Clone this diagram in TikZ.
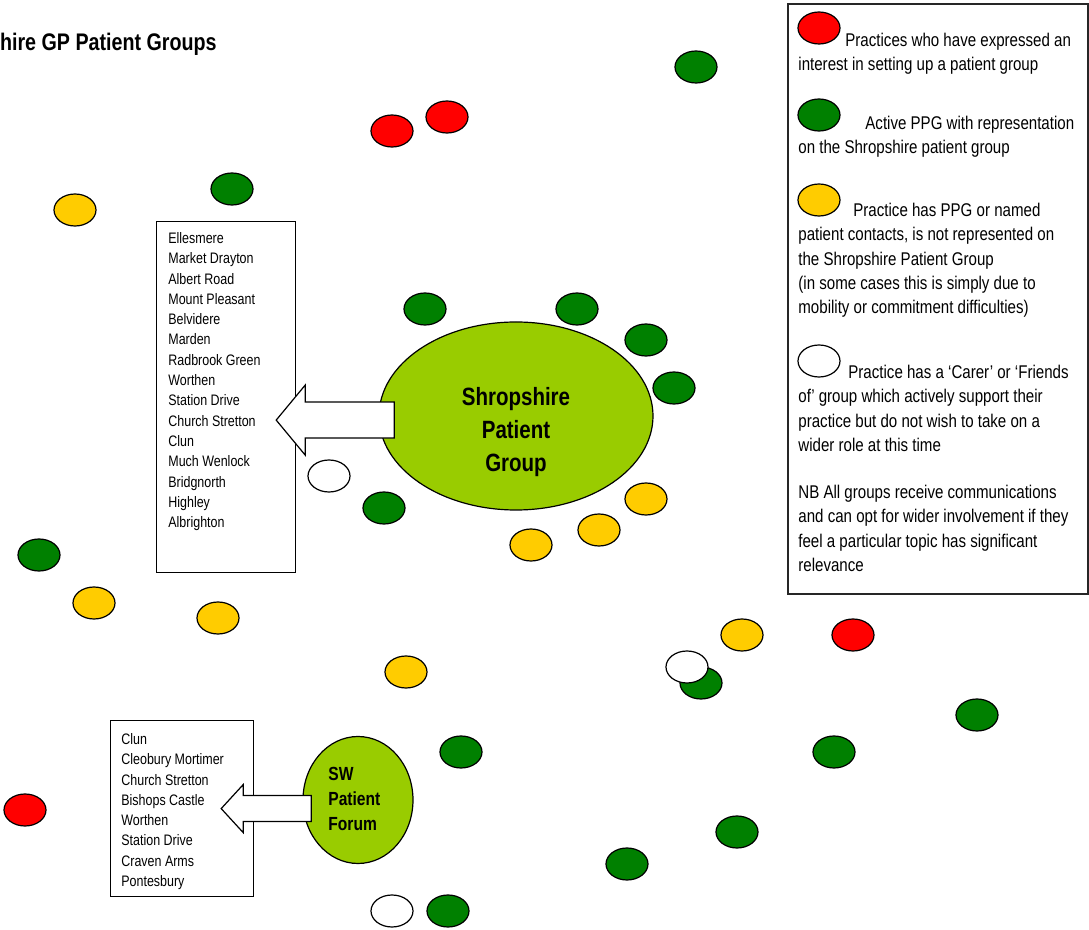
\documentclass[tikz,border=0pt]{standalone}
\usepackage{fontspec}
\setmainfont{Liberation Sans}[FakeStretch=0.82]
\usetikzlibrary{shapes.geometric, calc}

\definecolor{ppgred}{RGB}{255,0,0}
\definecolor{ppggreen}{RGB}{0,128,0}
\definecolor{ppgyellow}{RGB}{255,204,0}
\definecolor{ppglime}{RGB}{153,204,0}

\begin{document}
\begin{tikzpicture}[x=0.5pt, y=-0.5pt,
		dot/.style={draw, ellipse, line width=0.6pt, minimum width=21pt, minimum height=16pt, inner sep=0pt},
		reddot/.style={dot, fill=ppgred},
		greendot/.style={dot, fill=ppggreen},
		yellowdot/.style={dot, fill=ppgyellow},
		whitedot/.style={dot, fill=white},
		group/.style={draw, ellipse, fill=ppglime, line width=0.6pt, inner sep=0pt},
		namebox/.style={draw, rectangle, line width=0.6pt, anchor=north west, inner sep=0pt},
		names/.style={anchor=north west, align=left, inner sep=0pt, font=\fontsize{7.6}{10.15}\selectfont},
		legendtext/.style={anchor=north west, align=left, inner sep=0pt, font=\fontsize{9.2}{12.1}\selectfont},
		blockarrow/.style={draw, fill=white, line width=0.6pt, line join=miter}]
		\useasboundingbox (0, 0) rectangle (1089, 930);
		\clip (0, 0) rectangle (1089, 930);
		\node[anchor=base east, inner sep=0pt, font=\fontsize{12}{14}\selectfont\bfseries] (title) at (217, 51) {Shropshire GP Patient Groups};

		% legend
		\node[namebox, draw=black!85, line width=0.8pt, minimum width=150pt, minimum height=295pt] (legend) at (787, 3) {};
		\node[reddot] (legend_red) at (819, 28) {};
		\node[greendot] (legend_green) at (819, 115) {};
		\node[yellowdot] (legend_yellow) at (819, 200) {};
		\node[whitedot] (legend_white) at (819, 361) {};
		\node[legendtext] (legend_red_text) at (798, 33) {\hspace*{23.5pt}Practices who have expressed an\\interest in setting up a patient group};
		\node[legendtext] (legend_green_text) at (798, 116) {\hspace*{33.5pt}Active PPG with representation\\on the Shropshire patient group};
		\node[legendtext] (legend_yellow_text) at (798, 203) {\hspace*{27.5pt}Practice has PPG or named\\patient contacts, is not represented on\\the Shropshire Patient Group\\(in some cases this is simply due to\\mobility or commitment difficulties)};
		\node[legendtext] (legend_white_text) at (798, 365) {\hspace*{25pt}Practice has a ‘Carer’ or ‘Friends\\of’ group which actively support their\\practice but do not wish to take on a\\wider role at this time};
		\node[legendtext] (legend_nb) at (798, 485) {NB All groups receive communications\\and can opt for wider involvement if they\\feel a particular topic has significant\\relevance};

		% practices
		\node[reddot] (red_1) at (392, 131) {};
		\node[reddot] (red_2) at (447, 117) {};
		\node[reddot] (red_3) at (853, 635) {};
		\node[reddot] (red_4) at (25, 810) {};
		\node[greendot] (green_1) at (696, 67) {};
		\node[greendot] (green_2) at (232, 189) {};
		\node[greendot] (green_3) at (425, 309) {};
		\node[greendot] (green_4) at (577, 309) {};
		\node[greendot] (green_5) at (646, 340) {};
		\node[greendot] (green_6) at (674, 388) {};
		\node[greendot] (green_7) at (384, 508) {};
		\node[greendot] (green_8) at (39, 555) {};
		\node[greendot] (green_9) at (701, 683) {};
		\node[greendot] (green_10) at (977, 715) {};
		\node[greendot] (green_11) at (834, 752) {};
		\node[greendot] (green_12) at (461, 752) {};
		\node[greendot] (green_13) at (737, 832) {};
		\node[greendot] (green_14) at (627, 864) {};
		\node[greendot] (green_15) at (448, 911) {};
		\node[yellowdot] (yellow_1) at (75, 210) {};
		\node[yellowdot] (yellow_2) at (646, 499) {};
		\node[yellowdot] (yellow_3) at (599, 530) {};
		\node[yellowdot] (yellow_4) at (531, 545) {};
		\node[yellowdot] (yellow_5) at (94, 603) {};
		\node[yellowdot] (yellow_6) at (218, 618) {};
		\node[yellowdot] (yellow_7) at (406, 672) {};
		\node[yellowdot] (yellow_8) at (742, 635) {};
		\node[whitedot] (white_1) at (329, 476) {};
		\node[whitedot] (white_2) at (687, 667) {};
		\node[whitedot] (white_3) at (392, 911) {};

		% Shropshire patient group
		\node[group, minimum width=137pt, minimum height=94pt] (spg) at (516, 416) {};
		\node[align=center, inner sep=0pt, font=\fontsize{12.5}{16.3}\selectfont\bfseries] (spg_text) at (516, 432) {Shropshire\\Patient\\Group};
		\node[namebox, minimum width=69.5pt, minimum height=175.5pt] (spg_list) at (156, 221) {};
		\node[names] (spg_names) at (168, 232) {Ellesmere\\Market Drayton\\Albert Road\\Mount Pleasant\\Belvidere\\Marden\\Radbrook Green\\Worthen\\Station Drive\\Church Stretton\\Clun\\Much Wenlock\\Bridgnorth\\Highley\\Albrighton};
		\coordinate (spg_tip) at ($(spg_list.east)+(-20, 23)$);
		\draw[blockarrow] (spg_tip) -- ++(29, -35) -- ++(0, 17) -- ++(89, 0) -- ++(0, 36) -- ++(-89, 0) -- ++(0, 17) -- cycle;

		% SW patient forum
		\node[group, minimum width=55pt, minimum height=63.5pt] (sw) at (358, 800) {};
		\node[anchor=west, align=left, inner sep=0pt, font=\fontsize{9.5}{12.5}\selectfont\bfseries] (sw_text) at (328, 799) {SW\\Patient\\Forum};
		\node[namebox, minimum width=71.5pt, minimum height=88pt] (sw_list) at (110, 720) {};
		\node[names] (sw_names) at (121, 733) {Clun\\Cleobury Mortimer\\Church Stretton\\Bishops Castle\\Worthen\\Station Drive\\Craven Arms\\Pontesbury};
		\coordinate (sw_tip) at ($(sw_list.east)+(-33, 0)$);
		\draw[blockarrow] (sw_tip) -- ++(22, -24) -- ++(0, 11) -- ++(68, 0) -- ++(0, 26) -- ++(-68, 0) -- ++(0, 11) -- cycle;
	\end{tikzpicture}
\end{document}
